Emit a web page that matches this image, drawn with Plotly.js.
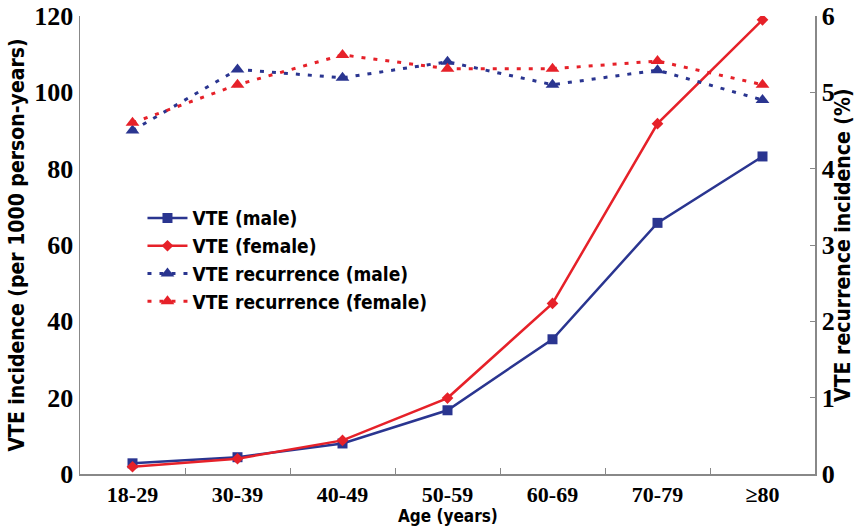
<!DOCTYPE html>
<html>
<head>
<meta charset="utf-8">
<script src="https://cdn.plot.ly/plotly-3.0.1.min.js"></script>
<style>html,body{margin:0;padding:0;background:#fff;}#chart{width:854px;height:529px;}</style>
</head>
<body>
<div id="chart"></div>
<script>
const ageGroups = ["18-29", "30-39", "40-49", "50-59", "60-69", "70-79", "≥80"];
const vteMale = [2.8, 4.4, 8.0, 16.7, 35.3, 65.8, 83.2];
const vteFemale = [1.9, 4.0, 8.8, 19.9, 44.7, 91.8, 119.0];
const recurMale = [4.50, 5.30, 5.19, 5.40, 5.10, 5.29, 4.90];
const recurFemale = [4.60, 5.10, 5.49, 5.31, 5.31, 5.41, 5.10];
const seriesNames = ["VTE (male)", "VTE (female)", "VTE recurrence (male)", "VTE recurrence (female)"];
const yLeftTicks = [0, 20, 40, 60, 80, 100, 120];
const yRightTicks = [0, 1, 2, 3, 4, 5, 6];

const blue = "#2a3590";
const red = "#e62129";
const tickFont = {family: "Liberation Serif", size: 26, color: "#000", weight: "bold"};
const xTickFont = {family: "Liberation Serif", size: 22, color: "#000", weight: "bold"};
const titleFont = {family: "DejaVu Sans Condensed", size: 21, color: "#000", weight: "bold"};
const xTitleFont = {family: "DejaVu Sans Condensed", size: 17, color: "#000", weight: "bold"};

const traces = [
  {x: ageGroups, y: vteMale, name: seriesNames[0], type: "scatter", mode: "lines+markers",
   line: {color: blue, width: 2.5}, marker: {symbol: "square", size: 10, color: blue}},
  {x: ageGroups, y: vteFemale, name: seriesNames[1], type: "scatter", mode: "lines+markers",
   line: {color: red, width: 2.5}, marker: {symbol: "diamond", size: 9, color: red}},
  {x: ageGroups, y: recurMale, name: seriesNames[2], type: "scatter", mode: "lines+markers", yaxis: "y2",
   line: {color: blue, width: 3, dash: "4px,8px"}, marker: {symbol: "triangle-up", size: 12, color: blue}},
  {x: ageGroups, y: recurFemale, name: seriesNames[3], type: "scatter", mode: "lines+markers", yaxis: "y2",
   line: {color: red, width: 3, dash: "4px,8px"}, marker: {symbol: "triangle-up", size: 12, color: red}}
];

const layout = {
  width: 854, height: 529,
  margin: {l: 80, r: 39, t: 16, b: 55},
  paper_bgcolor: "#fff", plot_bgcolor: "#fff",
  showlegend: true,
  legend: {x: 0.085, y: 0.6, xanchor: "left", yanchor: "top", bgcolor: "rgba(0,0,0,0)",
           font: {family: "DejaVu Sans Condensed", size: 19, color: "#000", weight: "bold"},
           tracegroupgap: 0, itemwidth: 40},
  xaxis: {type: "category", range: [-0.5, 6.5], showline: true, linecolor: "#888", linewidth: 1.5,
          ticks: "inside", tickson: "boundaries", ticklen: 6, tickcolor: "#888", showgrid: false,
          zeroline: false, tickfont: xTickFont},
  yaxis: {range: [0, 120], tickvals: yLeftTicks, showline: true, linecolor: "#888", linewidth: 1.5,
          ticks: "", showgrid: false, zeroline: false, tickfont: tickFont,
          title: {text: "VTE incidence (per 1000 person-years)", font: titleFont, standoff: 4}},
  yaxis2: {overlaying: "y", side: "right", range: [0, 6], tickvals: yRightTicks, showline: true,
           linecolor: "#888", linewidth: 1.5, ticks: "inside", ticklen: 5, tickcolor: "#888",
           showgrid: false, zeroline: false, tickfont: tickFont, automargin: false},
  annotations: [
    {text: "Age (years)", xref: "paper", yref: "paper", x: 0.5, y: -0.092, xanchor: "center",
     yanchor: "middle", showarrow: false, font: xTitleFont},
    {text: "VTE recurrence incidence (%)", xref: "paper", yref: "paper",
     x: 1.038, y: 0.5, xanchor: "center", yanchor: "middle", textangle: -90,
     showarrow: false, font: titleFont}]
};

Plotly.newPlot("chart", traces, layout, {displayModeBar: false, staticPlot: true});
</script>
</body>
</html>
